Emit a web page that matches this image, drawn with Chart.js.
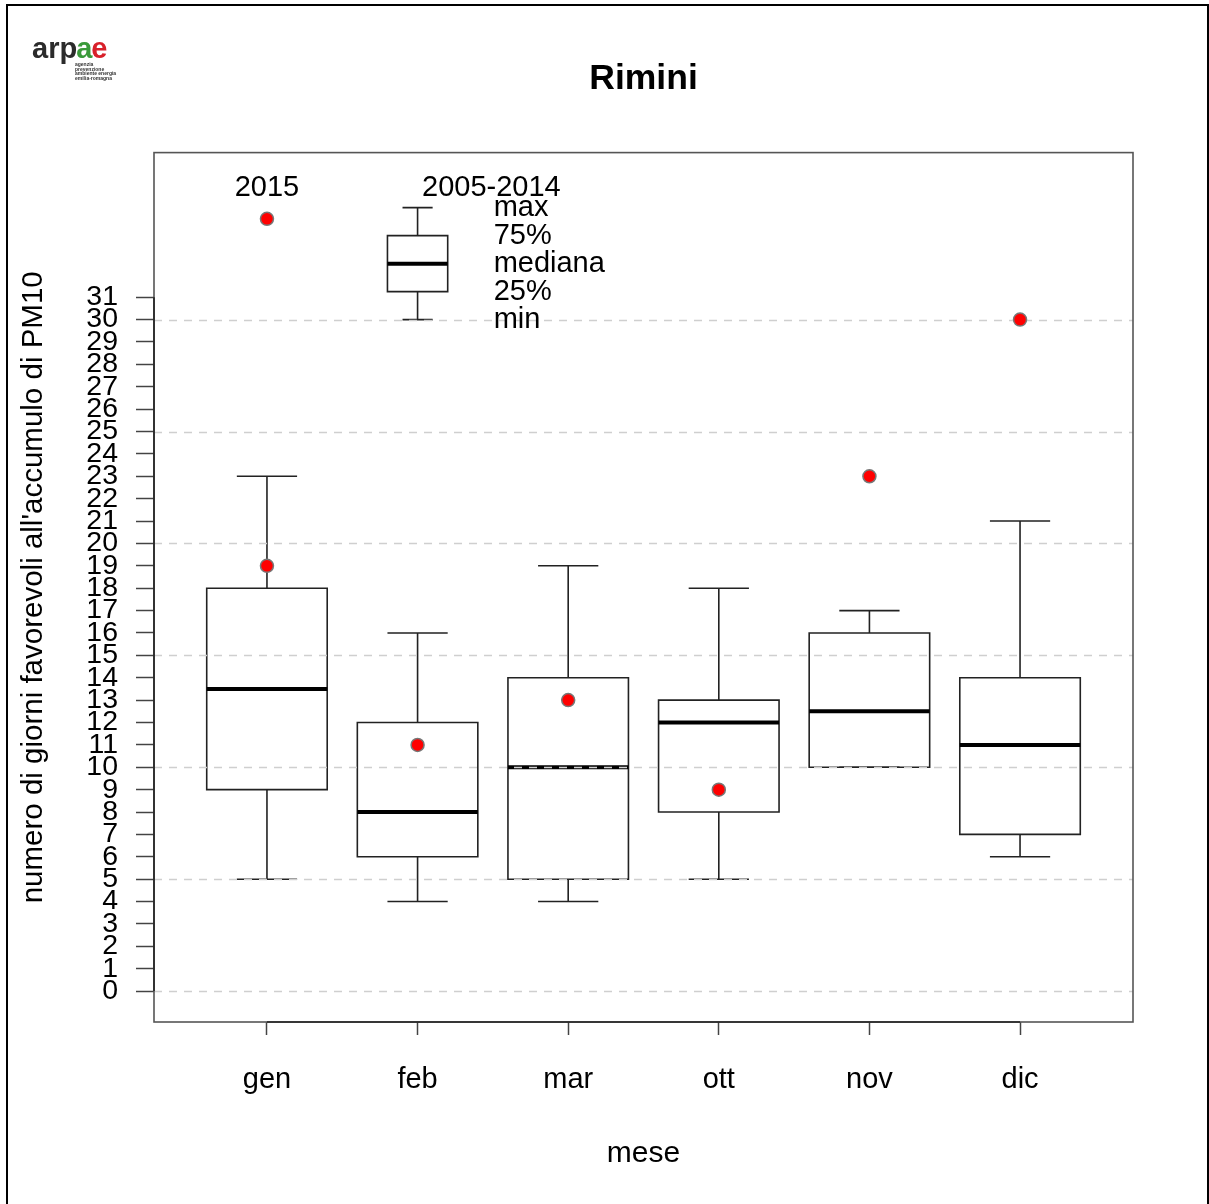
<!DOCTYPE html>
<html><head><meta charset="utf-8">
<script src="https://cdn.jsdelivr.net/npm/chart.js@4.4.1/dist/chart.umd.min.js"></script>
<style>html,body{margin:0;padding:0;background:#fff}canvas{display:block}</style>
</head><body>
<canvas id="c" width="1209" height="1204"></canvas>
<script>
// ---- data ----
const months = ['gen', 'feb', 'mar', 'ott', 'nov', 'dic'];
const whiskerMin = [5, 4, 4, 5, 10, 6];
const q1 = [9, 6, 5, 8, 10, 7];
const median = [13.5, 8, 10, 12, 12.5, 11];
const q3 = [18, 12, 14, 13, 16, 14];
const whiskerMax = [23, 16, 19, 18, 17, 21];
const value2015 = [19, 11, 13, 9, 23, 30];
const yTicks = [0,1,2,3,4,5,6,7,8,9,10,11,12,13,14,15,16,17,18,19,20,21,22,23,24,25,26,27,28,29,30,31];
const gridValues = [0, 5, 10, 15, 20, 25, 30];
// legend sample box: min, 25%, mediana, 75%, max
const legendStats = [30, 31.25, 32.5, 33.75, 35];
const legendLabels = ['min', '25%', 'mediana', '75%', 'max'];
const legendPoint = 34.5;

const FONT = '"Liberation Sans", Arial, sans-serif';
Chart.defaults.font.family = FONT;
Chart.defaults.color = '#000';

const boxPlugin = {
  id: 'boxes',
  beforeDatasetsDraw(chart) {
    const {ctx, chartArea: ca, scales: {x, y}} = chart;
    ctx.save();
    const unit = x.getPixelForValue(1) - x.getPixelForValue(0);
    function drawBox(cx, mn, a, md, b, mx, boxHalf, capHalf) {
      const px = x.getPixelForValue(cx);
      ctx.strokeStyle = '#222';
      ctx.lineWidth = 1.6;
      ctx.beginPath();
      ctx.rect(px - boxHalf * unit, y.getPixelForValue(b), 2 * boxHalf * unit, y.getPixelForValue(a) - y.getPixelForValue(b));
      ctx.stroke();
      ctx.beginPath();
      ctx.moveTo(px, y.getPixelForValue(b)); ctx.lineTo(px, y.getPixelForValue(mx));
      ctx.moveTo(px - capHalf * unit, y.getPixelForValue(mx)); ctx.lineTo(px + capHalf * unit, y.getPixelForValue(mx));
      ctx.moveTo(px, y.getPixelForValue(a)); ctx.lineTo(px, y.getPixelForValue(mn));
      ctx.moveTo(px - capHalf * unit, y.getPixelForValue(mn)); ctx.lineTo(px + capHalf * unit, y.getPixelForValue(mn));
      ctx.stroke();
      ctx.strokeStyle = '#000';
      ctx.lineWidth = 4;
      ctx.beginPath();
      ctx.moveTo(px - boxHalf * unit, y.getPixelForValue(md)); ctx.lineTo(px + boxHalf * unit, y.getPixelForValue(md));
      ctx.stroke();
    }
    months.forEach((m, i) => drawBox(i + 1, whiskerMin[i], q1[i], median[i], q3[i], whiskerMax[i], 0.4, 0.2));
    drawBox(2, legendStats[0], legendStats[1], legendStats[2], legendStats[3], legendStats[4], 0.2, 0.1);

    // dashed grid lines (over boxes, under points)
    ctx.strokeStyle = '#cfcfcf';
    ctx.lineWidth = 1.5;
    ctx.setLineDash([8, 7]);
    gridValues.forEach(v => {
      const py = Math.round(y.getPixelForValue(v)) + 0.5;
      ctx.beginPath(); ctx.moveTo(ca.left, py); ctx.lineTo(ca.right, py); ctx.stroke();
    });
    ctx.setLineDash([]);

    // plot frame
    ctx.strokeStyle = '#555';
    ctx.lineWidth = 1.6;
    ctx.strokeRect(ca.left, ca.top, ca.right - ca.left, ca.bottom - ca.top);
    // axis lines
    ctx.strokeStyle = '#222';
    ctx.beginPath();
    ctx.moveTo(x.getPixelForValue(1), ca.bottom); ctx.lineTo(x.getPixelForValue(6), ca.bottom);
    ctx.moveTo(ca.left, y.getPixelForValue(0)); ctx.lineTo(ca.left, y.getPixelForValue(31));
    ctx.stroke();
    ctx.restore();
  },
  afterDraw(chart) {
    const {ctx, scales: {x, y}} = chart;
    ctx.save();
    ctx.fillStyle = '#000';
    ctx.font = '29px ' + FONT;
    ctx.textBaseline = 'middle';
    ctx.textAlign = 'center';
    ctx.fillText('2015', x.getPixelForValue(1), y.getPixelForValue(35.9));
    ctx.fillText('2005-2014', x.getPixelForValue(2.49), y.getPixelForValue(35.9));
    ctx.textAlign = 'left';
    legendStats.forEach((v, i) => ctx.fillText(legendLabels[i], x.getPixelForValue(2.505), y.getPixelForValue(v)));

    // logo
    ctx.textBaseline = 'alphabetic';
    ctx.font = 'bold 29px ' + FONT;
    let lx = 32;
    const parts = [['arp', '#2b2b2b'], ['a', '#3a9a3a'], ['e', '#d8202a']];
    parts.forEach(([t, c]) => { ctx.fillStyle = c; ctx.fillText(t, lx, 58); lx += ctx.measureText(t).width - 1; });
    ctx.fillStyle = '#333';
    ctx.font = 'bold 5px ' + FONT;
    ['agenzia', 'prevenzione', 'ambiente energia', 'emilia-romagna'].forEach((t, i) => ctx.fillText(t, 75, 66 + i * 4.5));

    // outer frame
    ctx.strokeStyle = '#000';
    ctx.lineWidth = 2;
    ctx.strokeRect(7, 5, 1201, 1300);
    ctx.restore();
  }
};

new Chart(document.getElementById('c'), {
  type: 'scatter',
  data: {
    datasets: [
      {
        label: '2015',
        data: value2015.map((v, i) => ({x: i + 1, y: v})),
        backgroundColor: '#ff0000',
        borderColor: '#777',
        borderWidth: 1.5,
        pointRadius: 6.5
      },
      {
        label: 'legenda 2015',
        data: [{x: 1, y: legendPoint}],
        backgroundColor: '#ff0000',
        borderColor: '#777',
        borderWidth: 1.5,
        pointRadius: 6.5
      }
    ]
  },
  options: {
    responsive: false,
    devicePixelRatio: 1,
    animation: false,
    layout: {padding: {left: 0, top: 0, bottom: 0, right: 76}},
    plugins: {
      legend: {display: false},
      tooltip: {enabled: false},
      title: {
        display: true,
        fullSize: false,
        text: 'Rimini',
        font: {size: 35.5, weight: 'bold'},
        color: '#000',
        padding: {top: 58, bottom: 52}
      }
    },
    scales: {
      x: {
        type: 'linear',
        position: 'bottom',
        min: 0.25,
        max: 6.75,
        afterBuildTicks: s => { s.ticks = months.map((m, i) => ({value: i + 1})); },
        afterFit: s => { s.height = 182; },
        ticks: {
          autoSkip: false,
          maxRotation: 0,
          padding: 28,
          font: {size: 29},
          color: '#000',
          callback: v => months[v - 1]
        },
        grid: {drawOnChartArea: false, drawTicks: true, tickLength: 13, tickColor: '#444', tickWidth: 1.5},
        border: {display: false},
        title: {display: true, text: 'mese', font: {size: 30}, color: '#000', padding: {top: 0, bottom: 32}}
      },
      y: {
        type: 'linear',
        min: -1.38,
        max: 37.46,
        afterBuildTicks: s => { s.ticks = yTicks.map(v => ({value: v})); },
        afterFit: s => { s.width = 154; },
        ticks: {autoSkip: false, padding: 18, font: {size: 28.5}, color: '#000'},
        grid: {drawOnChartArea: false, drawTicks: true, tickLength: 18, tickColor: '#444', tickWidth: 1.5},
        border: {display: false},
        title: {display: true, text: "numero di giorni favorevoli all'accumulo di PM10", font: {size: 29.5}, color: '#000', padding: {top: 16, bottom: 0}}
      }
    }
  },
  plugins: [boxPlugin]
});
</script>
</body></html>
